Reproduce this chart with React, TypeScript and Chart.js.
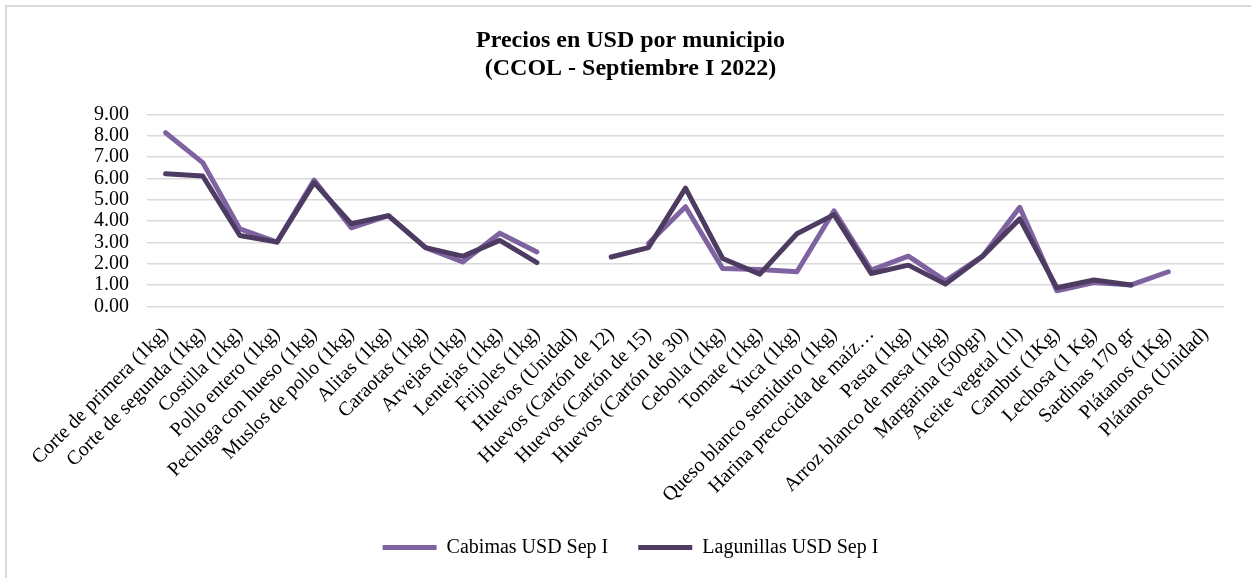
import React, { useEffect, useRef } from "react";
import { Chart, registerables } from "chart.js";

Chart.register(...registerables);

const categories: string[] = [
  "Corte de primera (1kg)",
  "Corte de segunda (1kg)",
  "Costilla (1kg)",
  "Pollo entero (1kg)",
  "Pechuga con hueso (1kg)",
  "Muslos de pollo (1kg)",
  "Alitas (1kg)",
  "Caraotas (1kg)",
  "Arvejas (1kg)",
  "Lentejas (1kg)",
  "Frijoles (1kg)",
  "Huevos (Unidad)",
  "Huevos (Cartón de 12)",
  "Huevos (Cartón de 15)",
  "Huevos (Cartón de 30)",
  "Cebolla (1kg)",
  "Tomate (1kg)",
  "Yuca (1kg)",
  "Queso blanco semiduro (1kg)",
  "Harina precocida de maíz…",
  "Pasta (1kg)",
  "Arroz blanco de mesa (1kg)",
  "Margarina (500gr)",
  "Aceite vegetal (1l)",
  "Cambur (1Kg)",
  "Lechosa (1 Kg)",
  "Sardinas 170 gr",
  "Plátanos (1Kg)",
  "Plátanos (Unidad)",
];

const cabimas: (number | null)[] = [
  8.15, 6.75, 3.64, 3.02, 5.93, 3.69, 4.26, 2.76, 2.09, 3.44, 2.56, null, null,
  2.95, 4.68, 1.78, 1.74, 1.63, 4.49, 1.71, 2.36, 1.2, 2.36, 4.65, 0.74, 1.12,
  1.01, 1.63, null,
];

const lagunillas: (number | null)[] = [
  6.23, 6.12, 3.33, 3.02, 5.81, 3.88, 4.26, 2.76, 2.36, 3.1, 2.06, null, 2.32,
  2.76, 5.55, 2.25, 1.52, 3.41, 4.31, 1.55, 1.94, 1.05, 2.36, 4.11, 0.88, 1.24,
  1.01, null, null,
];

const seriesNames: string[] = ["Cabimas USD Sep I", "Lagunillas USD Sep I"];
const titleLines: string[] = ["Precios en USD por municipio", "(CCOL - Septiembre I 2022)"];
const yMin = 0;
const yMax = 9;
const yStep = 1;

const FONT = "'Liberation Serif', 'Times New Roman', serif";
const C_CAB = "#7f63a1";
const C_LAG = "#4d3b62";

export default function App() {
  const ref = useRef<HTMLCanvasElement>(null);

  useEffect(() => {
    if (!ref.current) return;
    const chart = new Chart(ref.current, {
      type: "line",
      data: {
        labels: categories,
        datasets: [
          {
            label: seriesNames[0],
            data: cabimas,
            borderColor: C_CAB,
            backgroundColor: C_CAB,
            borderWidth: 5,
            pointRadius: 0,
            pointHoverRadius: 0,
            borderCapStyle: "round",
            borderJoinStyle: "round",
            spanGaps: false,
            tension: 0,
            order: 1,
          },
          {
            label: seriesNames[1],
            data: lagunillas,
            borderColor: C_LAG,
            backgroundColor: C_LAG,
            borderWidth: 5,
            pointRadius: 0,
            pointHoverRadius: 0,
            borderCapStyle: "round",
            borderJoinStyle: "round",
            spanGaps: false,
            tension: 0,
            order: 0,
          },
        ],
      },
      options: {
        animation: false,
        responsive: false,
        devicePixelRatio: 1,
        layout: { padding: { left: 32, right: 32, top: 0, bottom: 15.5 } },
        scales: {
          x: {
            type: "category",
            offset: true,
            grid: { display: false },
            border: { display: false },
            ticks: {
              autoSkip: false,
              maxRotation: 45,
              minRotation: 45,
              padding: 8,
              color: "#000",
              font: { family: FONT, size: 20 },
            },
            afterFit: (s: any) => {
              s.height = 201;
            },
          },
          y: {
            min: yMin,
            max: yMax,
            ticks: {
              stepSize: yStep,
              autoSkip: false,
              padding: 18,
              color: "#000",
              font: { family: FONT, size: 20 },
              callback: (v: any) => Number(v).toFixed(2),
            },
            grid: { color: "#d9d9d9", lineWidth: 1.5, drawTicks: false },
            border: { display: false },
            afterFit: (s: any) => {
              s.width = 110;
            },
          },
        },
        plugins: {
          title: {
            display: true,
            text: titleLines,
            color: "#000",
            font: { family: FONT, size: 24, weight: "bold", lineHeight: 1.15 },
            padding: { top: 22, bottom: 32.4 },
          },
          legend: {
            position: "bottom",
            labels: {
              usePointStyle: true,
              pointStyle: "line",
              pointStyleWidth: 54,
              color: "#000",
              padding: 30,
              font: { family: FONT, size: 20 },
              sort: (a: any, b: any) => a.datasetIndex - b.datasetIndex,
            },
          },
          tooltip: { enabled: false },
        },
      } as any,
    });
    return () => chart.destroy();
  }, []);

  return (
    <div
      style={{
        position: "fixed",
        left: 0,
        top: 0,
        width: "100vw",
        height: "100vh",
        overflow: "hidden",
        background: "#fff",
      }}
    >
      <div
        style={{
          position: "absolute",
          left: 5,
          top: 5,
          width: 1300,
          height: 700,
          border: "2px solid #d9d9d9",
          boxSizing: "border-box",
        }}
      />
      <canvas
        ref={ref}
        width={1251}
        height={578}
        style={{ position: "absolute", left: 5, top: 5, display: "block" }}
      />
    </div>
  );
}
